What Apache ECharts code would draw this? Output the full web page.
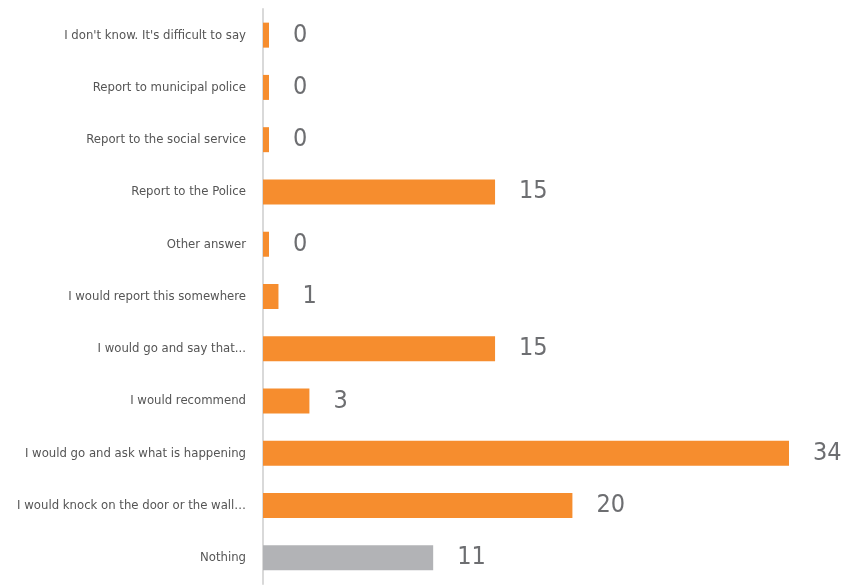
<!DOCTYPE html>
<html>
<head>
<meta charset="utf-8">
<script src="https://cdn.jsdelivr.net/npm/echarts@6/dist/echarts.min.js"></script>
<style>
  html, body { margin: 0; padding: 0; background: #ffffff; }
  #chart { width: 841px; height: 588px; }
</style>
</head>
<body>
<div id="chart"></div>
<script>
// Answer categories, listed top to bottom
const categories = [
  "I don't know. It's difficult to say",
  "Report to municipal police",
  "Report to the social service",
  "Report to the Police",
  "Other answer",
  "I would report this somewhere",
  "I would go and say that...",
  "I would recommend",
  "I would go and ask what is happening",
  "I would knock on the door or the wall\u2026",
  "Nothing"
];

// Share of respondents (%) per answer
const values = [0, 0, 0, 15, 0, 1, 15, 3, 34, 20, 11];

const ORANGE = '#F68D2E';
const GREY = '#B2B3B6';
const FONT = "'Liberation Sans Narrow', 'DejaVu Sans Condensed', sans-serif";

const chart = echarts.init(document.getElementById('chart'), null, { renderer: 'canvas' });

chart.setOption({
  animation: false,
  backgroundColor: '#ffffff',
  grid: {
    left: 263, right: 52, top: 9, bottom: 4,
    containLabel: false,
    outerBoundsMode: 'none'
  },
  xAxis: {
    type: 'value',
    min: 0,
    max: 34,
    show: false
  },
  yAxis: {
    type: 'category',
    data: categories,
    inverse: true,
    axisLine: { show: true, lineStyle: { color: '#D9D9D9', width: 2 } },
    axisTick: { show: false },
    axisLabel: {
      color: '#555555',
      fontFamily: FONT,
      fontSize: 13,
      margin: 17
    },
    splitLine: { show: false }
  },
  series: [{
    type: 'bar',
    data: values.map((v, i) => ({
      value: v,
      itemStyle: { color: categories[i] === 'Nothing' ? GREY : ORANGE }
    })),
    barWidth: 25,
    barMinHeight: 6,
    label: {
      show: true,
      position: 'right',
      distance: 24,
      color: '#6D6E71',
      fontFamily: FONT,
      fontSize: 25
    }
  }]
});
</script>
</body>
</html>
